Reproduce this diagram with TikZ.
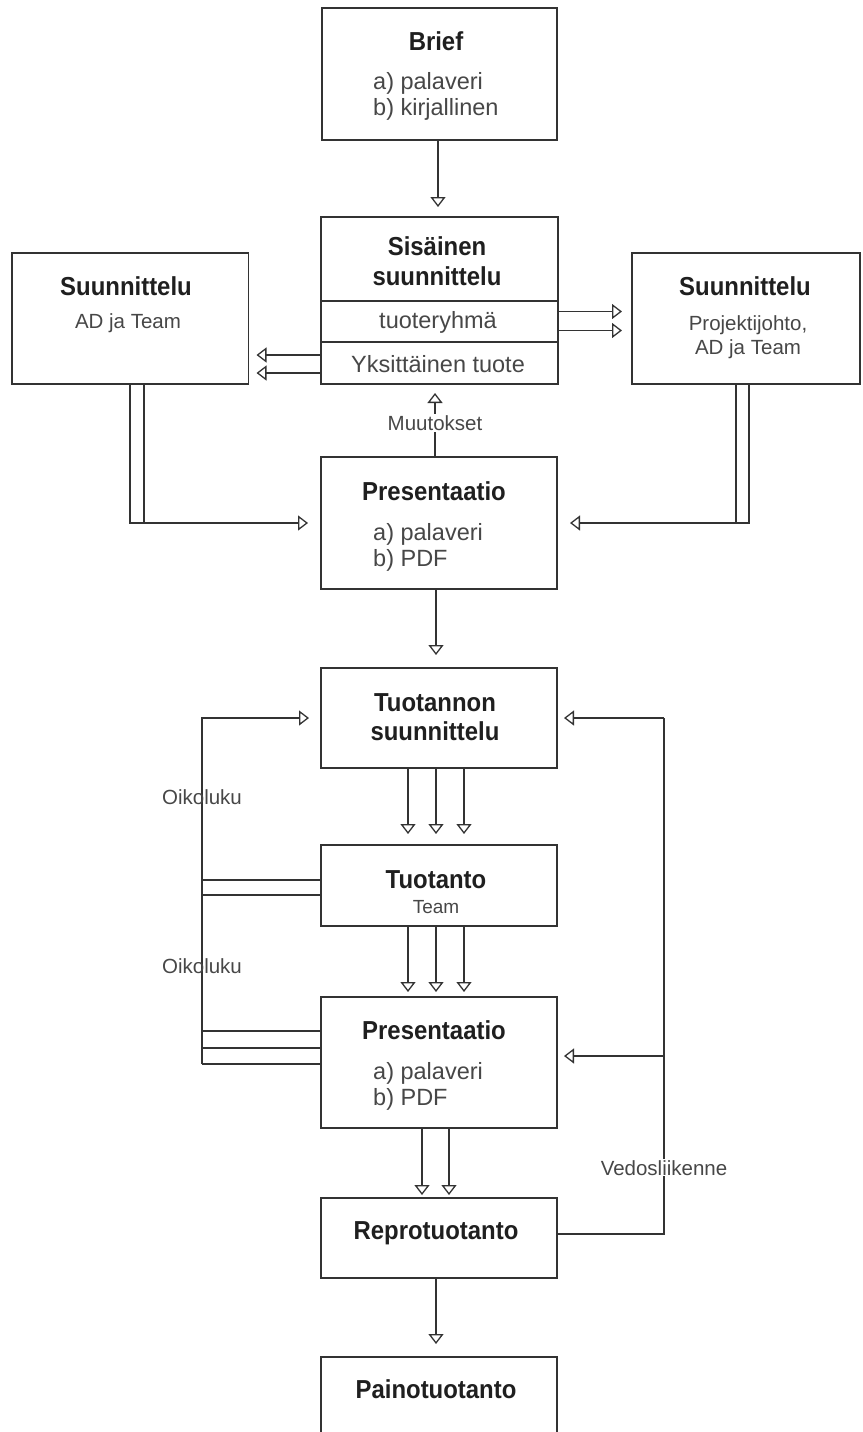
\documentclass[tikz,border=0pt]{standalone}
\usepackage{fontspec}
\setmainfont{Liberation Sans}
\newfontfamily\tfont{Liberation Sans}[FakeStretch=0.92]
\usetikzlibrary{arrows.meta,calc}
\tikzset{
  box/.style={draw=black!80, line width=1.4pt, rectangle, inner sep=0pt, outer sep=0pt, fill=white},
  ln/.style={draw=black!80, line width=1.4pt},
  arr/.style={ln, -{Triangle[open, width=15pt, length=10pt, line width=1.3pt]}, shorten >=10pt},
  ttl/.style={anchor=base, inner sep=0pt, text=black!88, font=\tfont\bfseries\fontsize{26}{28}\selectfont},
  body/.style={anchor=base west, inner sep=0pt, text=black!72, align=left, font=\fontsize{23.5}{26}\selectfont},
  bodyc/.style={anchor=base, inner sep=0pt, text=black!72, font=\fontsize{23.5}{26}\selectfont},
  small/.style={anchor=base, inner sep=0pt, text=black!72, font=\fontsize{20.5}{24}\selectfont},
}
\begin{document}
\begin{tikzpicture}[x=1pt, y=-1pt]
\useasboundingbox (0,0) rectangle (862,1432);
\clip (0,0) rectangle (862,1432);
% boxes
\node[box, minimum width=235pt, minimum height=132pt] (brief) at (439.5,74) {};
\node[box, minimum width=237pt, minimum height=167pt] (sis) at (439.5,300.5) {};
\node[box, minimum width=236.5pt, minimum height=131pt] (lsuun) at (130.25,318.5) {};
\node[box, minimum width=228pt, minimum height=131pt] (rsuun) at (746,318.5) {};
\node[box, minimum width=236pt, minimum height=132pt] (pres1) at (439,523) {};
\node[box, minimum width=236pt, minimum height=100pt] (tsuun) at (439,718) {};
\node[box, minimum width=236pt, minimum height=81pt] (tuot) at (439,885.5) {};
\node[box, minimum width=236pt, minimum height=131pt] (pres2) at (439,1062.5) {};
\node[box, minimum width=236pt, minimum height=80pt] (repro) at (439,1238) {};
\node[box, minimum width=236pt, minimum height=103pt] (paino) at (439,1408.5) {};
% dividers in Sisainen
\coordinate (d1) at ($(sis.west)+(0,0.5)$);
\coordinate (d2) at ($(sis.west)+(0,41.5)$);
\draw[ln] (d1) -- (d1 -| sis.east);
\draw[ln] (d2) -- (d2 -| sis.east);
% texts
\node[ttl] (tBrief) at (436,50) {Brief};
\node[body] (bBrief) at (373,115) {a) palaveri\\b) kirjallinen};
\node[ttl] (tSis1) at (437,255) {Sisäinen};
\node[ttl] (tSis2) at (437,285) {suunnittelu};
\node[bodyc] (tTr) at (438,328) {tuoteryhmä};
\node[bodyc] (tYk) at (438,372) {Yksittäinen tuote};
\node[ttl] (tLs) at (126,295) {Suunnittelu};
\node[small] (bLs) at (128,328) {AD ja Team};
\node[ttl] (tRs) at (745,295) {Suunnittelu};
\node[small] (bRs1) at (748,330) {Projektijohto,};
\node[small] (bRs2) at (748,354) {AD ja Team};
\node[ttl] (tP1) at (434,500) {Presentaatio};
\node[body] (bP1) at (373,566) {a) palaveri\\b) PDF};
\node[ttl] (tTs1) at (435,711) {Tuotannon};
\node[ttl] (tTs2) at (435,740) {suunnittelu};
\node[ttl] (tTu) at (436,888) {Tuotanto};
\node[small, font=\fontsize{19}{22}\selectfont] (bTu) at (436,913) {Team};
\node[ttl] (tP2) at (434,1039) {Presentaatio};
\node[body] (bP2) at (373,1105) {a) palaveri\\b) PDF};
\node[ttl] (tRe) at (436,1239) {Reprotuotanto};
\node[ttl] (tPa) at (436,1398) {Painotuotanto};
% Brief -> Sisainen
\draw[arr] ($(brief.south)+(-1.5,0)$) -- ($(sis.north)+(-1.5,0)$);
% Sisainen -> right Suunnittelu
\coordinate (sR1) at ($(sis.east)+(0,11)$);
\coordinate (sR2) at ($(sis.east)+(0,30)$);
\draw[arr] (sR1) -- (sR1 -| rsuun.west);
\draw[arr] (sR2) -- (sR2 -| rsuun.west);
% Sisainen -> left Suunnittelu
\coordinate (sL1) at ($(sis.west)+(0,54.5)$);
\coordinate (sL2) at ($(sis.west)+(0,72.5)$);
\draw[arr, shorten >=8pt] (sL1) -- (sL1 -| lsuun.east);
\draw[arr, shorten >=8pt] (sL2) -- (sL2 -| lsuun.east);
% left Suunnittelu -> Presentaatio
\coordinate (lv1) at (130,384);
\coordinate (lv2) at (144,384);
\draw[ln] (lv2) -- (lv2 |- pres1.west);
\draw[arr, shorten >=13pt] (lv1) |- (pres1.west);
% right Suunnittelu -> Presentaatio
\coordinate (rv1) at (736,384);
\coordinate (rv2) at (749,384);
\draw[ln] (rv1) -- (rv1 |- pres1.east);
\draw[arr, shorten >=13pt] (rv2) |- (pres1.east);
% Muutokset
\draw[arr, shorten >=9pt] ($(pres1.north)+(-4,0)$) -- ($(sis.south)+(-4.5,0)$)
  node[pos=0.47, small, anchor=center, fill=white, inner sep=1.5pt] (muut) {Muutokset};
% Presentaatio -> Tuotannon suunnittelu
\draw[arr, shorten >=13pt] ($(pres1.south)+(-3,0)$) -- ($(tsuun.north)+(-3,0)$);
% Tuotannon -> Tuotanto (triple)
\foreach \dx in {-31,-3,25}
  \draw[arr, shorten >=11pt] ($(tsuun.south)+(\dx,0)$) -- ($(tuot.north)+(\dx,0)$);
% Tuotanto -> Presentaatio (triple)
\foreach \dx in {-31,-3,25}
  \draw[arr, shorten >=5pt] ($(tuot.south)+(\dx,0)$) -- ($(pres2.north)+(\dx,0)$);
% Presentaatio -> Repro (double)
\foreach \dx in {-17,10}
  \draw[arr, shorten >=3pt] ($(pres2.south)+(\dx,0)$) -- ($(repro.north)+(\dx,0)$);
% Repro -> Paino
\draw[arr, shorten >=13pt] ($(repro.south)+(-3,0)$) -- ($(paino.north)+(-3,0)$);
% left Oikoluku bus
\coordinate (lb) at (202,1064);
\draw[arr, shorten >=12pt] (lb) |- (tsuun.west);
\coordinate (tw1) at ($(tuot.west)+(0,-5.5)$);
\coordinate (tw2) at ($(tuot.west)+(0,9.5)$);
\draw[ln] (tw1) -- (tw1 -| lb);
\draw[ln] (tw2) -- (tw2 -| lb);
\coordinate (pw1) at ($(pres2.west)+(0,-31.5)$);
\coordinate (pw2) at ($(pres2.west)+(0,-14.5)$);
\coordinate (pw3) at ($(pres2.west)+(0,1.5)$);
\draw[ln] (pw1) -- (pw1 -| lb);
\draw[ln] (pw2) -- (pw2 -| lb);
\draw[ln] (pw3) -- (lb);
\node[small] (ok1) at (202,804) {Oikoluku};
\node[small] (ok2) at (202,973) {Oikoluku};
% right Vedosliikenne bus
\coordinate (rbTop) at (664,718);
\coordinate (rbBot) at (664,1234);
\coordinate (reE) at ($(repro.east)+(0,-4)$);
\draw[ln] (reE) -- (rbBot) -- (rbTop);
\draw[arr, shorten >=7pt] (rbTop) -- (tsuun.east);
\coordinate (p2E) at ($(pres2.east)+(0,-6.5)$);
\draw[arr, shorten >=7pt] (p2E -| rbTop) -- (p2E);
\node[small, fill=white, inner sep=1pt] (ved) at (664,1175) {Vedosliikenne};
\end{tikzpicture}
\end{document}
